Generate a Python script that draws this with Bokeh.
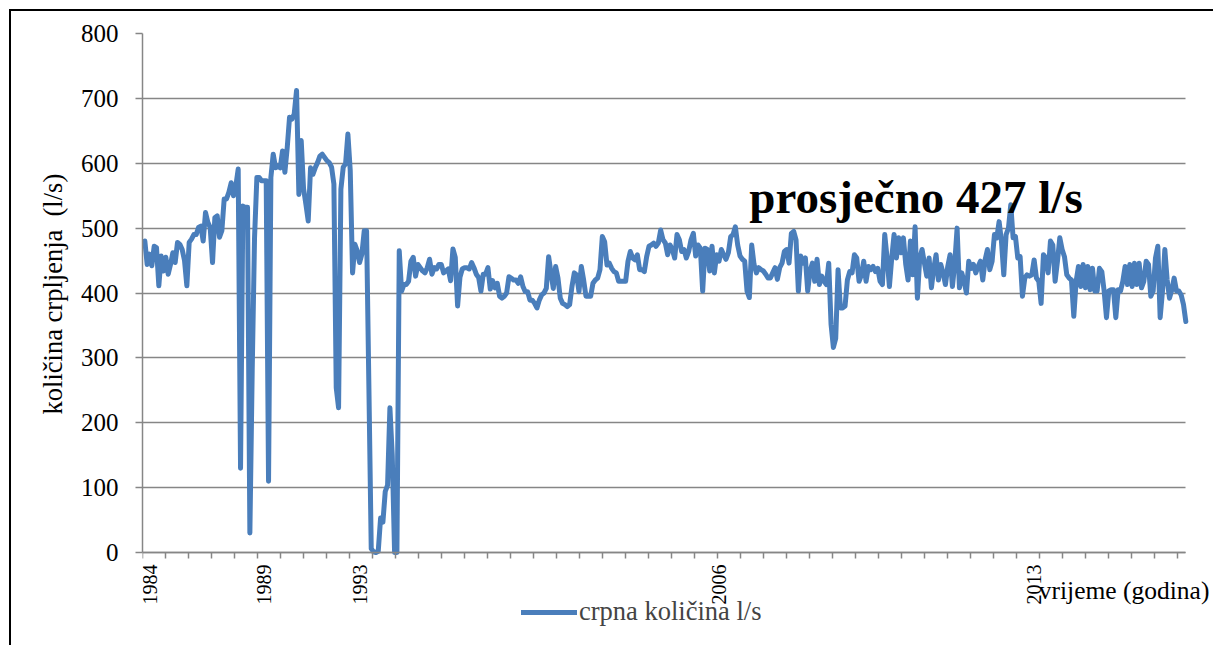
import math
from bokeh.plotting import figure
from bokeh.models import Range1d, FixedTicker, Label, Legend, LegendItem, Grid
from bokeh.embed import file_html
from bokeh.resources import INLINE

# monthly pumped quantity (l/s), split by period
flow_1984_1988 = [480, 444, 460, 442, 472, 470, 411, 457, 434, 455, 429, 444, 462, 447, 478, 475,
                  467, 450, 411, 478, 483, 490, 490, 501, 503, 480, 524, 509, 501, 447, 516, 519,
                  486, 496, 545, 545, 555, 570, 550, 565, 591, 130, 534, 532, 532, 30, 280, 485,
                  578, 578, 573, 573, 573, 110, 578, 614, 593, 596, 593, 619, 586, 624, 671, 668,
                  676, 712, 552, 635, 561, 537, 511, 593, 583, 593, 601, 611, 614]
flow_1989_1994 = [609, 604, 601, 594, 568, 254, 223, 560, 594, 599, 645, 589, 431, 475, 465, 447,
                  460, 496, 496, 254, 6, 1, 0, 2, 53, 47, 94, 104, 223, 150, 0, 0, 465, 403, 413,
                  413, 418, 449, 455, 426, 444, 439, 434, 431, 439, 452, 429, 439, 437, 444, 444,
                  431, 434, 437, 419, 468, 455, 380, 424, 437, 439, 439, 437, 447, 439, 429, 424,
                  403, 429, 429, 439, 406, 419, 408]
flow_1995_2000 = [415, 395, 392, 395, 400, 425, 423, 420, 420, 415, 425, 410, 402, 402, 389, 389,
                  384, 377, 389, 397, 400, 407, 456, 431, 407, 441, 423, 392, 384, 382, 379, 382,
                  410, 431, 428, 402, 441, 420, 395, 395, 395, 415, 420, 423, 436, 487, 479, 443,
                  446, 438, 433, 431, 418, 418, 418, 418, 449, 464, 454, 451, 459, 436, 436, 433,
                  456, 472, 474, 477, 472, 477, 497, 482]
flow_2001_2008 = [477, 459, 474, 467, 454, 490, 482, 464, 467, 454, 464, 482, 492, 457, 474, 469,
                  403, 469, 467, 434, 472, 431, 459, 449, 467, 459, 452, 462, 487, 490, 502, 474,
                  457, 452, 449, 403, 393, 474, 444, 431, 439, 436, 434, 429, 423, 423, 431, 439,
                  421, 439, 446, 464, 467, 446, 492, 495, 482, 403, 457, 446, 454, 403, 434, 446,
                  418, 452, 413, 426, 418, 413, 446, 352, 316]
flow_2008_2012 = [330, 436, 377, 377, 380, 420, 433, 431, 459, 454, 418, 428, 449, 418, 441, 436,
                  441, 433, 438, 418, 413, 490, 454, 410, 454, 490, 454, 485, 462, 485, 444, 420,
                  480, 428, 502, 392, 454, 467, 446, 426, 454, 408, 438, 459, 420, 444, 431, 413,
                  441, 459, 410, 446, 500, 408, 431, 418, 400, 449, 438, 444, 431, 441, 449, 420,
                  451, 467, 436, 449, 490, 485, 510, 480, 428]
flow_2012_2016 = [490, 500, 536, 485, 487, 454, 456, 395, 423, 428, 426, 428, 451, 423, 418, 384,
                  459, 454, 431, 480, 474, 418, 449, 485, 467, 456, 428, 423, 420, 364, 418, 441,
                  410, 444, 408, 441, 405, 438, 403, 403, 438, 433, 403, 362, 403, 405, 405, 362,
                  405, 403, 418, 441, 413, 444, 410, 446, 413, 446, 408, 418, 449, 444, 395, 403,
                  454, 472, 362, 403, 467, 420, 392, 405, 423, 403, 403, 397, 382, 356]

year_labels = ["1984", "1989", "1993", "2006", "2013"]
year_label_pos = [2, 51, 92, 246, 381]
y_ticks = [0, 100, 200, 300, 400, 500, 600, 700, 800]

flow = (flow_1984_1988 + flow_1989_1994 + flow_1995_2000 +
        flow_2001_2008 + flow_2008_2012 + flow_2012_2016)
n = len(flow)
idx = list(range(n))

FONT = "Liberation Serif"
GRAY = "#868686"
BLUE = "#4A7EBB"

# layout (pixels)
W, H = 1204, 636
TOP, LEFT = 22, 131
AXIS_PX = 519                       # pixels between 0 and 800
DATA_PX = 1041                      # pixels between first and last month
below_px = H - TOP - AXIS_PX        # frame pixels under the zero line
y_start = -below_px * 800.0 / AXIS_PX
px_per_idx = DATA_PX / (n - 1)
x_start = -1

extend_right = "cross_bounds" in Grid.properties()
if extend_right:
    RIGHT = 0
    x_end = x_start + (W - LEFT) / px_per_idx
else:
    RIGHT = 32
    x_end = n - 1

p = figure(width=W, height=H, output_backend="svg", toolbar_location=None,
           x_range=Range1d(x_start, x_end), y_range=Range1d(y_start, 800),
           min_border_left=LEFT, min_border_top=TOP, min_border_right=RIGHT, min_border_bottom=0,
           styles={"box-shadow": "-2px -2px 0px 0px black",
                   "margin-left": "11px", "margin-top": "11px"})
p.outline_line_color = None
p.background_fill_color = "white"
p.border_fill_color = "white"

r = p.line(idx, flow, line_color=BLUE, line_width=5, line_join="round", line_cap="round")

# y axis
p.yaxis.ticker = FixedTicker(ticks=y_ticks)
p.yaxis.bounds = (0, 800)
p.yaxis.axis_line_color = GRAY
p.yaxis.axis_line_width = 1.5
p.yaxis.major_tick_line_color = GRAY
p.yaxis.major_tick_line_width = 1.5
p.yaxis.major_tick_out = 7
p.yaxis.major_tick_in = 0
p.yaxis.minor_tick_line_color = None
p.yaxis.major_label_text_font = FONT
p.yaxis.major_label_text_font_size = "25px"
p.yaxis.major_label_text_color = "black"
p.yaxis.major_label_standoff = 17
# leading no-break spaces lift the centred title to the middle of the 0-800 span
p.yaxis.axis_label = "\u00a0" * 14 + "količina crpljenja\u00a0\u00a0(l/s)"
p.yaxis.axis_label_text_font = FONT
p.yaxis.axis_label_text_font_style = "normal"
p.yaxis.axis_label_text_font_size = "26.5px"
p.yaxis.axis_label_text_color = "black"
p.yaxis.axis_label_standoff = 10

# x axis, drawn at the zero line
minor = [x_start + k * 9.85 for k in range(46)]
p.xaxis.fixed_location = 0
p.xaxis.bounds = (x_start, n - 1)
p.xaxis.ticker = FixedTicker(ticks=year_label_pos, minor_ticks=minor)
p.xaxis.major_label_overrides = {pos: lab for pos, lab in zip(year_label_pos, year_labels)}
p.xaxis.axis_line_color = GRAY
p.xaxis.axis_line_width = 1.5
p.xaxis.major_tick_line_color = None
p.xaxis.major_tick_out = 0
p.xaxis.major_tick_in = 0
p.xaxis.minor_tick_line_color = GRAY
p.xaxis.minor_tick_line_width = 1.5
p.xaxis.minor_tick_out = 6
p.xaxis.minor_tick_in = 0
p.xaxis.major_label_orientation = math.pi / 2
p.xaxis.major_label_text_font = FONT
p.xaxis.major_label_text_font_size = "20px"
p.xaxis.major_label_text_color = "black"
p.xaxis.major_label_standoff = 6

p.xgrid.visible = False
p.ygrid.ticker = FixedTicker(ticks=y_ticks)
p.ygrid.grid_line_color = GRAY
p.ygrid.grid_line_width = 1.5
if extend_right:
    p.ygrid.cross_bounds = (x_start, n - 1)

legend = Legend(items=[LegendItem(label="crpna količina l/s", renderers=[r])],
                location=(379, 20), orientation="horizontal",
                border_line_color=None, background_fill_alpha=0,
                glyph_width=56, glyph_height=20, label_standoff=2,
                label_text_font=FONT, label_text_font_size="26.5px",
                padding=0, margin=0, spacing=0)
p.add_layout(legend)

p.add_layout(Label(x=259, y=548, text="prosječno 427 l/s", text_font=FONT,
                   text_font_style="bold", text_font_size="47px",
                   text_baseline="alphabetic", text_color="black"))
p.add_layout(Label(x=383, y=-58.6, text="vrijeme (godina)",
                   text_font=FONT,
                   text_font_size="25.5px" if extend_right else "21px",
                   text_baseline="middle", text_color="black"))

open("out.html", "w").write(file_html(p, INLINE))
